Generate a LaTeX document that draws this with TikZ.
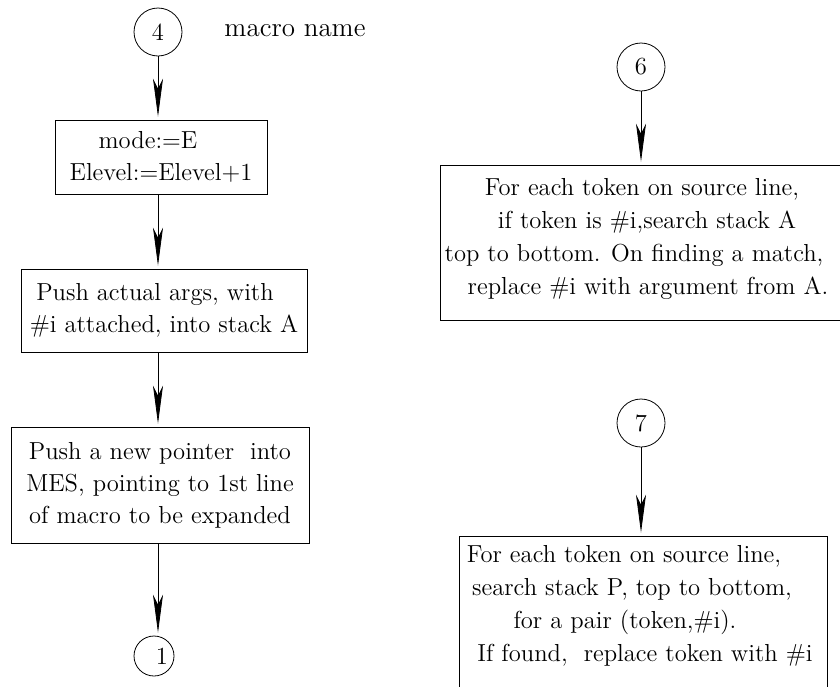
\documentclass[tikz,border=0pt]{standalone}
\usetikzlibrary{arrows.meta}
\newcommand\myhs[1]{\rule{#1}{0pt}}
\begin{document}
\begin{tikzpicture}[x=0.5pt,y=-0.5pt,
  box/.style={draw, rectangle, inner sep=0pt, align=center, font=\fontsize{12.3}{16}\selectfont},
  rtxt/.style={inner sep=0pt, align=center, font=\fontsize{12.3}{16.5}\selectfont},
  conn/.style={draw, circle, inner sep=0pt, minimum size=24pt, font=\fontsize{12.3}{14}\selectfont},
  arr/.style={-{Stealth[length=19pt,width=5pt,inset=5pt]}, shorten >=1.5pt}]
\useasboundingbox (0,0) rectangle (840,686);
\clip (0,0) rectangle (840,686);
% left column
\node[conn] (c4) at (158,32) {4};
\node[inner sep=0pt, font=\fontsize{13.5}{15}\selectfont] (mn) at (295,31) {macro name};
\node[box, minimum width=106pt, minimum height=37pt] (b1) at (161,157)
  {mode:=E\myhs{13pt}\\Elevel:=Elevel+1};
\node[box, minimum width=143pt, minimum height=41.5pt] (b2) at (164,310.5)
  {Push actual args, with\myhs{9pt}\\\#i attached, into stack A};
\node[box, minimum width=149pt, minimum height=58pt] (b3) at (160,485)
  {Push a new pointer\ \ into\\MES, pointing to 1st line\\of macro to be expanded};
\node[conn, minimum size=20pt] (c1) at (154,656) {\myhs{8pt}1};
\draw[arr] (c4.south) -- (c4.south |- b1.north);
\draw[arr] (b1.south -| c4) -- (b2.north -| c4);
\draw[arr] (b2.south -| c4) -- (b3.north -| c4);
\draw[arr] (b3.south -| c4) -- (c1.north -| c4);
% right column
\node[conn] (c6) at (641,67) {6};
\node[draw, rectangle, minimum width=210pt, minimum height=77.5pt] (b6) at (650,242.5) {};
\node[rtxt] (t6) at (642,238.5)
  {For each token on source line,\\\myhs{5pt}if token is \#i,search stack A\\top to bottom. On finding a match,\myhs{8pt}\\\myhs{6pt}replace \#i with argument from A.};
\node[conn] (c7) at (641,423) {7};
\node[draw, rectangle, minimum width=184pt, minimum height=82pt] (b7) at (643,618) {};
\node[rtxt] (t7) at (632,606)
  {For each token on source line,\myhs{8pt}\\search stack P, top to bottom,\\for a pair (token,\#i).\myhs{7pt}\\\myhs{13pt}If found,\ \ replace token with \#i};
\draw[arr] (c6.south) -- (c6.south |- b6.north);
\draw[arr] (c7.south) -- (c7.south |- b7.north);
\end{tikzpicture}
\end{document}
